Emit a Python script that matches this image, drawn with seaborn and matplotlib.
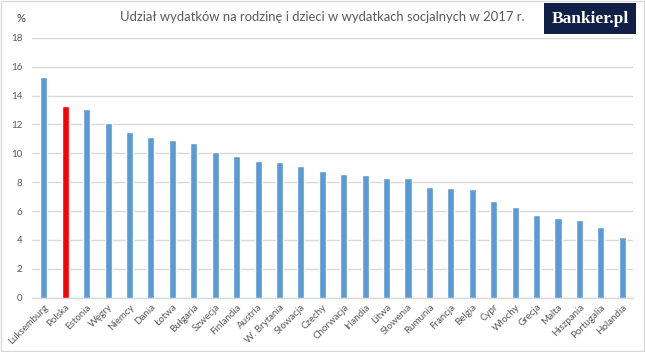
import numpy as np
import pandas as pd
import matplotlib
matplotlib.use("Agg")
import matplotlib.pyplot as plt
import seaborn as sns
from matplotlib.patches import Rectangle

sns.set_style("white")
plt.rcParams["font.family"] = ["Lato", "DejaVu Sans"]

# ====================================
# Data
# ====================================

countries = [
    "Luksemburg", "Polska", "Estonia", "Węgry", "Niemcy", "Dania", "Łotwa",
    "Bułgaria", "Szwecja", "Finlandia", "Austria", "W. Brytania", "Słowacja",
    "Czechy", "Chorwacja", "Irlandia", "Litwa", "Słowenia", "Rumunia",
    "Francja", "Belgia", "Cypr", "Włochy", "Grecja", "Malta", "Hiszpania",
    "Portugalia", "Holandia",
]

values = [
    15.3, 13.3, 13.1, 12.1, 11.5, 11.1, 10.9,
    10.7, 10.1, 9.8, 9.5, 9.4, 9.1,
    8.8, 8.6, 8.5, 8.3, 8.3, 7.7,
    7.6, 7.5, 6.7, 6.3, 5.7, 5.5, 5.4,
    4.9, 4.2,
]

highlight = "Polska"

df = pd.DataFrame({"country": countries, "value": values})

palette = {c: ("#ff0000" if c == highlight else "#5b9bd5") for c in countries}

# ====================================
# Plot
# ====================================

fig = plt.figure(figsize=(6.45, 3.52), dpi=100)
ax = fig.add_axes([32 / 645, 1 - 297.7 / 352, (633 - 32) / 645, (297.7 - 37.8) / 352])

sns.barplot(
    data=df,
    x="country",
    y="value",
    hue="country",
    palette=palette,
    saturation=1,
    legend=False,
    width=0.33,
    ax=ax,
    zorder=3,
)

ax.set_xlim(-0.55, 27.5)
ax.set_ylim(0, 18)
ax.set_yticks(np.arange(0, 19, 2))
ax.yaxis.grid(True, color="#d9d9d9", linewidth=1)
ax.set_axisbelow(True)

for s in ["top", "right", "left"]:
    ax.spines[s].set_visible(False)
ax.spines["bottom"].set_color("#d9d9d9")
ax.spines["bottom"].set_linewidth(1)

ax.set_xlabel("")
ax.set_ylabel("")
ax.tick_params(axis="both", length=0, colors="#595959", labelsize=7)
ax.tick_params(axis="y", pad=7)
plt.setp(ax.get_xticklabels(), rotation=45, ha="right", rotation_mode="anchor")

fig.text(21 / 645, 1 - 18 / 352, "%", ha="center", va="center",
         fontsize=8, color="#404040")

fig.text(322 / 645, 1 - 17 / 352,
         "Udział wydatków na rodzinę i dzieci w wydatkach socjalnych w 2017 r.",
         ha="center", va="center", fontsize=9.4, color="#595959")

# logo
fig.patches.append(Rectangle((544 / 645, 1 - 34 / 352), 92 / 645, 31 / 352,
                             transform=fig.transFigure, facecolor="#0f1f45",
                             edgecolor="none"))
fig.text(590 / 645, 1 - 19 / 352, "Bankier.pl", ha="center", va="center",
         fontsize=12.5, color="white", family="Liberation Serif",
         fontweight="bold")

# outer border
fig.patches.append(Rectangle((0.001, 0.002), 0.997, 0.995,
                             transform=fig.transFigure, facecolor="none",
                             edgecolor="#d9d9d9", linewidth=1))

plt.savefig("out.png", dpi=100)
plt.close()
